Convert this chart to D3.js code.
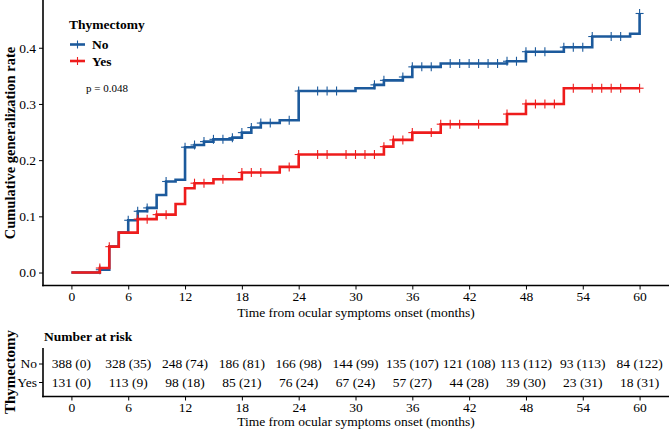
<!DOCTYPE html>
<html>
<head>
<meta charset="utf-8">
<script src="https://cdn.jsdelivr.net/npm/d3@7"></script>
<style>
  body { margin: 0; background: #fff; }
  text { font-family: "Liberation Serif", "Times New Roman", serif; fill: #000; }
</style>
</head>
<body>
<script>
// cumulative incidence steps
var noTimes = [0, 3, 4, 5, 6, 7, 8, 9, 10, 11, 12, 13, 14, 15, 17, 18, 19, 20, 22, 24, 30, 32, 33, 35, 36, 39, 46, 48, 52, 55, 59, 60];
var noRates = [0, 0.005, 0.046, 0.071, 0.093, 0.109, 0.115, 0.138, 0.162, 0.165, 0.223, 0.227, 0.233, 0.237, 0.240, 0.249, 0.258, 0.266, 0.271, 0.323, 0.328, 0.334, 0.342, 0.348, 0.366, 0.372, 0.376, 0.393, 0.401, 0.420, 0.425, 0.461];
var yesTimes = [0, 3, 4, 5, 7, 9, 11, 12, 13, 15, 18, 22, 24, 33, 34, 36, 39, 46, 48, 52, 60];
var yesRates = [0, 0.008, 0.046, 0.071, 0.095, 0.103, 0.122, 0.150, 0.159, 0.166, 0.178, 0.188, 0.210, 0.224, 0.236, 0.249, 0.264, 0.282, 0.300, 0.328, 0.328];

// censoring marks (months)
var noCensor = [3, 6, 7, 8, 10, 12, 13, 14, 15, 16, 17, 18, 19, 20, 21, 23, 24, 26, 27, 28, 32, 33, 35, 36, 37, 38, 40, 41, 42, 43, 44, 45, 46, 47, 48, 49, 50, 52, 53, 54, 55, 57, 58, 60];
var yesCensor = [3, 4, 7, 8, 9, 10, 13, 14, 16, 18, 19, 20, 23, 24, 26, 27, 29, 30, 31, 32, 33, 34, 35, 36, 38, 39, 40, 41, 43, 46, 48, 49, 50, 51, 53, 55, 56, 57, 58, 60];

// risk table
var riskMonths = [0, 6, 12, 18, 24, 30, 36, 42, 48, 54, 60];
var noAtRisk = [388, 328, 248, 186, 166, 144, 135, 121, 113, 93, 84];
var noEvents = [0, 35, 74, 81, 98, 99, 107, 108, 112, 113, 122];
var yesAtRisk = [131, 113, 98, 85, 76, 67, 57, 44, 39, 23, 18];
var yesEvents = [0, 9, 18, 21, 24, 24, 27, 28, 30, 31, 31];
var yTicks = [0, 0.1, 0.2, 0.3, 0.4];

var groups = ["No", "Yes"];
var colors = {"No": "#1c5a9c", "Yes": "#ee1c1c"};

var width = 669, height = 430;
var svg = d3.select("body").append("svg")
    .attr("width", width)
    .attr("height", height);

var x = d3.scaleLinear().domain([-3, 63]).range([43, 668]);
var y = d3.scaleLinear().domain([-0.0231, 0.485]).range([285.5, 0]);

// axes
var yAxis = svg.append("g")
    .attr("transform", "translate(43,0)")
    .call(d3.axisLeft(y).tickValues(yTicks).tickFormat(d3.format(".1f")).tickSize(4).tickPadding(3));
var xAxis = svg.append("g")
    .attr("transform", "translate(0,285.5)")
    .call(d3.axisBottom(x).tickValues(riskMonths).tickSize(4).tickPadding(2));

[yAxis, xAxis].forEach(function(a) {
    a.select(".domain").attr("stroke-width", 1.6).attr("d", null);
    a.selectAll("line").attr("stroke-width", 1);
    a.selectAll("text").style("font-size", "13.5px").attr("fill", "#222");
});
svg.append("line").attr("x1", 43).attr("x2", 43).attr("y1", 0).attr("y2", 286.3)
    .attr("stroke", "#000").attr("stroke-width", 1.6);
svg.append("line").attr("x1", 42.2).attr("x2", 669).attr("y1", 285.5).attr("y2", 285.5)
    .attr("stroke", "#000").attr("stroke-width", 1.6);

svg.append("text")
    .attr("transform", "translate(15,143) rotate(-90)")
    .attr("text-anchor", "middle")
    .style("font-size", "14.5px")
    .style("font-weight", "bold")
    .text("Cumulative generalization rate");

svg.append("text")
    .attr("x", 356).attr("y", 317)
    .attr("text-anchor", "middle")
    .style("font-size", "13.5px")
    .text("Time from ocular symptoms onset (months)");

// curves
var series = {
    "No": {times: noTimes, rates: noRates, censor: noCensor},
    "Yes": {times: yesTimes, rates: yesRates, censor: yesCensor}
};

var line = d3.line()
    .x(function(d) { return x(d[0]); })
    .y(function(d) { return y(d[1]); })
    .curve(d3.curveStepAfter);

function valueAt(s, t) {
    var i = d3.bisectRight(s.times, t) - 1;
    return s.rates[Math.max(0, i)];
}

groups.forEach(function(g) {
    var s = series[g];
    var pts = s.times.map(function(t, i) { return [t, s.rates[i]]; });
    svg.append("path")
        .datum(pts)
        .attr("fill", "none")
        .attr("stroke", colors[g])
        .attr("stroke-width", 2.6)
        .attr("d", line);

    var marks = svg.append("g").selectAll("g")
        .data(s.censor)
        .enter().append("g")
        .attr("transform", function(t) { return "translate(" + x(t) + "," + y(valueAt(s, t)) + ")"; });
    marks.append("line").attr("y1", -4.5).attr("y2", 4.5)
        .attr("stroke", colors[g]).attr("stroke-width", 1.1);
    marks.append("line").attr("x1", -4).attr("x2", 4)
        .attr("stroke", colors[g]).attr("stroke-width", 1.1);
});

// legend
svg.append("text").attr("x", 69).attr("y", 29)
    .style("font-size", "13.5px").style("font-weight", "bold").text("Thymectomy");
groups.forEach(function(g, i) {
    var ly = 44.5 + i * 16.5;
    svg.append("line").attr("x1", 70).attr("x2", 85).attr("y1", ly).attr("y2", ly)
        .attr("stroke", colors[g]).attr("stroke-width", 2.6);
    svg.append("line").attr("x1", 77.5).attr("x2", 77.5).attr("y1", ly - 4).attr("y2", ly + 4)
        .attr("stroke", colors[g]).attr("stroke-width", 1.1);
    svg.append("text").attr("x", 92).attr("y", ly + 4.5)
        .style("font-size", "13.5px").style("font-weight", "bold").text(g);
});
svg.append("text").attr("x", 86).attr("y", 91.5)
    .style("font-size", "11px").text("p = 0.048");

// number at risk table
svg.append("text").attr("x", 44).attr("y", 341)
    .style("font-size", "13.5px").style("font-weight", "bold").text("Number at risk");

var rowY = d3.scalePoint().domain(groups).range([363.5, 382]);
var table = svg.append("g");
table.append("g")
    .attr("transform", "translate(43,0)")
    .call(d3.axisLeft(rowY).tickSize(4).tickPadding(2))
    .call(function(a) {
        a.select(".domain").remove();
        a.selectAll("text").style("font-size", "13.5px").attr("fill", "#222");
    });
table.append("g")
    .attr("transform", "translate(0,396.5)")
    .call(d3.axisBottom(x).tickValues(riskMonths).tickSize(4).tickPadding(2))
    .call(function(a) {
        a.select(".domain").remove();
        a.selectAll("text").style("font-size", "13.5px").attr("fill", "#222");
    });
table.append("line").attr("x1", 43).attr("x2", 43).attr("y1", 348).attr("y2", 397.3)
    .attr("stroke", "#000").attr("stroke-width", 1.6);
table.append("line").attr("x1", 42.2).attr("x2", 669).attr("y1", 396.5).attr("y2", 396.5)
    .attr("stroke", "#000").attr("stroke-width", 1.6);

var rows = {
    "No": riskMonths.map(function(m, i) { return noAtRisk[i] + " (" + noEvents[i] + ")"; }),
    "Yes": riskMonths.map(function(m, i) { return yesAtRisk[i] + " (" + yesEvents[i] + ")"; })
};
groups.forEach(function(g) {
    table.append("g").selectAll("text")
        .data(riskMonths)
        .enter().append("text")
        .attr("x", function(m) { return x(m); })
        .attr("y", rowY(g) + 4.5)
        .attr("text-anchor", "middle")
        .style("font-size", "13.5px")
        .text(function(m, i) { return rows[g][i]; });
});

svg.append("text")
    .attr("transform", "translate(15,372) rotate(-90)")
    .attr("text-anchor", "middle")
    .style("font-size", "15px")
    .style("font-weight", "bold")
    .text("Thymectomy");

svg.append("text")
    .attr("x", 356).attr("y", 426)
    .attr("text-anchor", "middle")
    .style("font-size", "13.5px")
    .text("Time from ocular symptoms onset (months)");
</script>
</body>
</html>
